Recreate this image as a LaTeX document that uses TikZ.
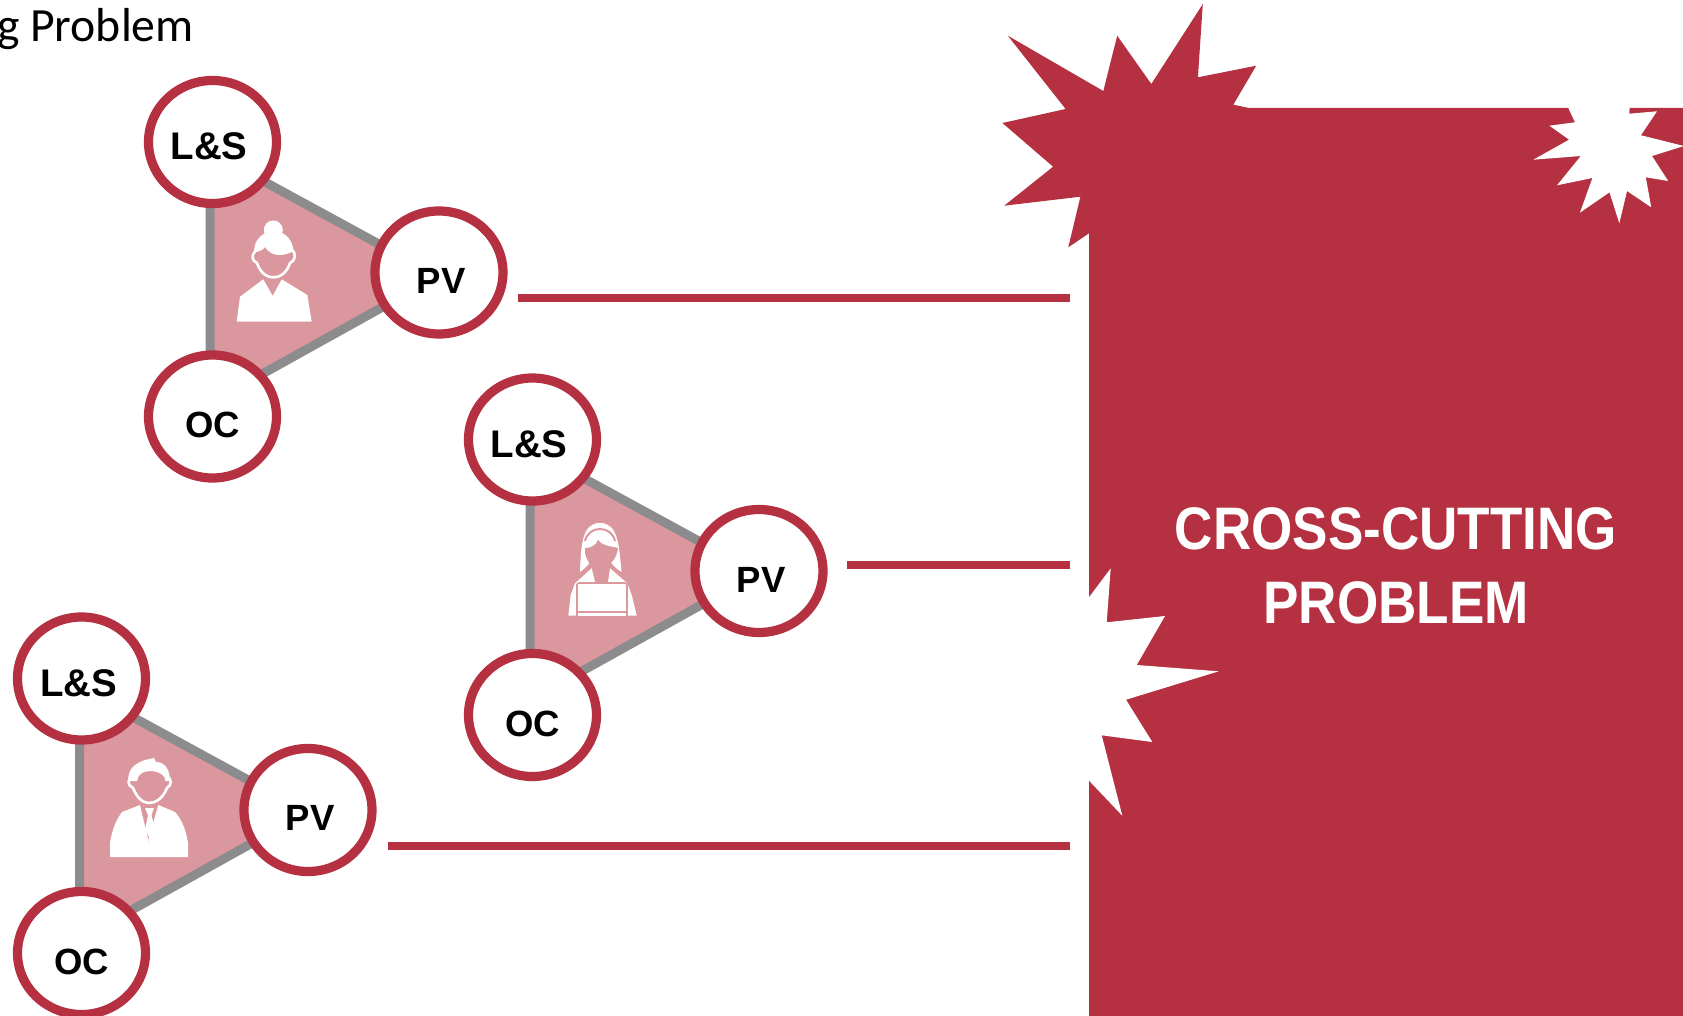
\documentclass[tikz,border=0pt]{standalone}
\usepackage{fontspec}
\usetikzlibrary{shapes.geometric}
\setmainfont{Liberation Sans}
\newfontfamily\titlefont[FakeStretch=0.885]{Liberation Sans}
\newfontfamily\headfont{Carlito}
\definecolor{brick}{HTML}{B53040}
\definecolor{rose}{HTML}{DB979E}
\definecolor{slate}{HTML}{8C8C8E}
\tikzset{
  ring/.style={ellipse,draw=brick,fill=white,line width=9.2pt,minimum width=128pt,minimum height=123pt,inner sep=0pt},
  lab/.style={font=\fontsize{36.5}{40}\selectfont\bfseries,text=black,inner sep=0pt},
  labw/.style={font=\fontsize{38.5}{42}\selectfont\bfseries,text=black,inner sep=0pt},
  tri/.style={draw=slate,fill=rose,line width=9pt,line join=miter},
  conn/.style={draw=brick,line width=8.5pt},
  wline/.style={draw=white,line width=2.6pt,line cap=round,line join=round},
  pline/.style={draw=rose,line width=2pt},
}
\begin{document}
\begin{tikzpicture}[x=1pt,y=-1pt]
\path[use as bounding box] (0,0) rectangle (1683,1016);
% block
\fill[brick] (1202.8,4) -- (1197.9,77.3) -- (1256.2,65.7) -- (1233.3,104.7) -- (1249,108) -- (1683,108) -- (1683,1016) -- (1089,1016) -- (1089,233.3) -- (1068.3,247.3) -- (1080.4,196.7) -- (1004.2,205.7) -- (1053.1,166.7) -- (1002.4,123) -- (1065.6,109) -- (1007.8,35.7) -- (1103.3,91) -- (1117.2,35.7) -- (1151.3,84) -- cycle;
% white bursts
\fill[white] (1567.8,107) -- (1575,122.3) -- (1549.4,125.7) -- (1569.1,139.7) -- (1533.3,159.7) -- (1580.8,156) -- (1557,185.3) -- (1592.4,178) -- (1579.9,212.7) -- (1609.5,192.3) -- (1619.3,223.3) -- (1627,191) -- (1651.2,207.3) -- (1645.8,177.3) -- (1668.2,181) -- (1652,156) -- (1684,146) -- (1640.9,135.3) -- (1657,111.3) -- (1629.2,113.7) -- (1629.7,107) -- cycle;
\fill[white] (1088,598.6) -- (1110.7,568.3) -- (1106.7,622.3) -- (1165,616) -- (1136.7,665) -- (1218.7,671.3) -- (1126,699.7) -- (1152.3,742) -- (1101.7,735.3) -- (1122.3,815.7) -- (1088,779.6) -- cycle;
\node[font=\titlefont\fontsize{60}{74.6}\selectfont\bfseries,text=white,align=center,inner sep=0pt] (title) at (1396,566) {CROSS-CUTTING\\PROBLEM};
\node[font=\headfont\fontsize{47.7}{52}\selectfont,text=black,anchor=base east,inner sep=0pt] (head) at (194,41.5) {g Problem};
% free ends of the connectors
\coordinate (e1) at (1070,298);
\coordinate (e2) at (1070,565);
\coordinate (e3) at (1070,846);
% group 1
\path[tri] (210,152) -- (438,276.3) -- (210,403) -- cycle;
\node[ring] (ls1) at (212.5,142) {};
\node[ring] (pv1) at (439,272.5) {};
\node[ring] (oc1) at (212.5,416.5) {};
\node[labw] (tls1) at (209,146) {L\&S};
\node[lab] (tpv1) at (441,281) {PV};
\node[lab] (toc1) at (212.5,425) {OC};
% group 2
\path[tri] (530,449) -- (758,573.3) -- (530,700) -- cycle;
\node[ring] (ls2) at (532.5,439.5) {};
\node[ring] (pv2) at (759,571) {};
\node[ring] (oc2) at (532.5,715) {};
\node[labw] (tls2) at (529,444.5) {L\&S};
\node[lab] (tpv2) at (761,579.5) {PV};
\node[lab] (toc2) at (532.5,724) {OC};
% group 3
\path[tri] (79.5,688) -- (307.5,812.3) -- (79.5,939) -- cycle;
\node[ring] (ls3) at (81.5,678.5) {};
\node[ring] (pv3) at (308,810) {};
\node[ring] (oc3) at (81.5,953) {};
\node[labw] (tls3) at (78.5,683) {L\&S};
\node[lab] (tpv3) at (310,818) {PV};
\node[lab] (toc3) at (81.5,962) {OC};
% connectors
\draw[conn] ([xshift=10.6pt]pv1.east |- e1) -- (e1);
\draw[conn] ([xshift=19.4pt]pv2.east |- e2) -- (e2);
\draw[conn] ([xshift=11.8pt]pv3.east |- e3) -- (e3);
% person 1 (woman with bun)
\fill[white] (273.3,230) circle (9.5);
\fill[white] (254,252) .. controls (254,240) and (262,232) .. (273,231) -- (275,231) .. controls (285,232) and (293,240) .. (293.5,251) .. controls (285,256) and (272,258) .. (265,247) .. controls (262,251) and (258,252) .. (254,252) -- cycle;
\draw[wline] (255,251.7) .. controls (251,255) and (252,261) .. (257,263) .. controls (260,272) and (266,277.3) .. (273.5,277.3) .. controls (281,277.3) and (287,272) .. (290,263) .. controls (295,261) and (296,255) .. (293.3,251);
\fill[white] (236.7,321.7) -- (240,296.7) -- (263.3,279.3) -- (272.7,296) -- (281.7,279.3) -- (307.3,295) -- (311.7,321.7) -- cycle;
% person 2 (woman with laptop)
\fill[white] (580,572) .. controls (581,545) and (582,523) .. (600,523) .. controls (618,523) and (619,545) .. (621.5,572) .. controls (612,566) and (610,560) .. (608,560) -- (592,560) .. controls (590,562) and (588,566) .. (580,572) -- cycle;
\draw[pline] (585,541) .. controls (587,533) and (593,529) .. (600,529) .. controls (607,529) and (613,533) .. (615,541);
\fill[rose] (585,548) .. controls (590,548) and (596,546) .. (598,540) .. controls (602,546) and (610,546) .. (618,548) .. controls (617,557) and (611,568) .. (598,568) .. controls (590,568) and (586,558) .. (585,553) -- cycle;
\fill[rose] (595,562) rectangle (608,584);
\fill[white] (568.3,615.7) -- (570.7,595) -- (575,583.3) -- (591.7,568.3) -- (595,582) -- (608,582) -- (610,568.3) -- (627.3,583.3) -- (631.7,595) -- (636.7,615.7) -- cycle;
\fill[white,draw=rose,line width=1.6pt,rounded corners=2pt] (577,583) rectangle (627,617);
\draw[pline] (578,612) -- (626,612);
% person 3 (man)
\fill[white] (128.5,781) .. controls (127,770) and (135,763) .. (145,760) -- (154,758) -- (156,762) .. controls (165,762) and (170,770) .. (170,781) -- (165.5,781) .. controls (165,775) and (160,772) .. (152,771) .. controls (143,771) and (138,774) .. (137,781) -- cycle;
\draw[wline] (133,776) .. controls (127,779) and (127,785) .. (133,788) .. controls (137,798) and (143,803) .. (149,803) .. controls (156,803) and (163,798) .. (167,788) .. controls (172,785) and (172,779) .. (167,776);
\fill[white] (110,857) -- (110,843) .. controls (112,830) and (116,820) .. (122,812) -- (140,805) -- (148.3,840) -- (150,857) -- cycle;
\fill[white] (149.5,857) -- (148.3,840) -- (158.3,805) -- (175,812) .. controls (182,820) and (186,830) .. (188,843) -- (188,857) -- cycle;
\fill[white] (145,808) -- (154,808) -- (151.5,815) -- (155,830) -- (149.5,838) -- (145,830) -- (148,815) -- cycle;
\end{tikzpicture}
\end{document}
